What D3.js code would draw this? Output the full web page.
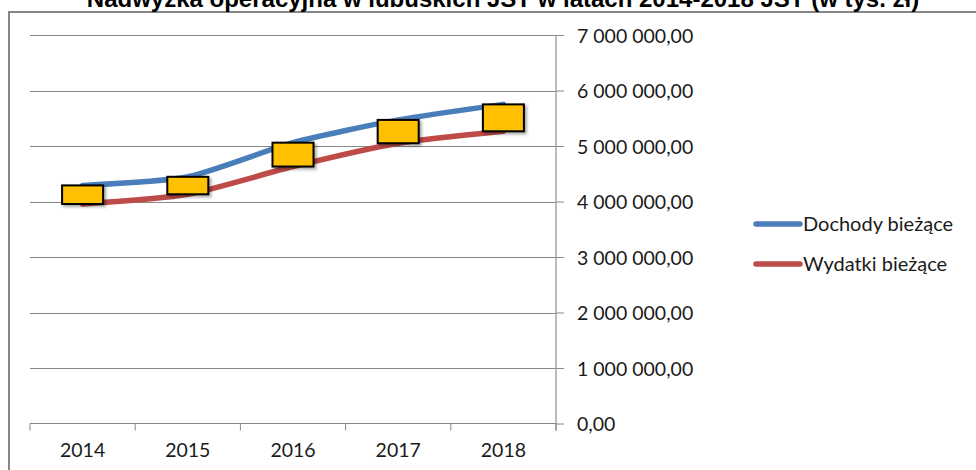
<!DOCTYPE html>
<html>
<head>
<meta charset="utf-8">
<title>Nadwyżka operacyjna</title>
<script src="https://d3js.org/d3.v7.min.js"></script>
<style>
    body { margin: 0; background: #fff; }
    .title { font-family: 'Liberation Sans', Arial, sans-serif; font-weight: bold; font-size: 24px; }
    .lbl { font-family: Lato, 'Open Sans', sans-serif; font-size: 19.5px; fill: #1a1a1a; }
    .leg text { font-size: 20px; }
    .grid line { stroke: #888; stroke-width: 1; }
</style>
</head>
<body>
<script>
var years = ["2014", "2015", "2016", "2017", "2018"];
var dochody = [4290000, 4445000, 5060000, 5470000, 5750000];
var wydatki = [3955000, 4130000, 4630000, 5050000, 5265000];
var yTicks = [0, 1000000, 2000000, 3000000, 4000000, 5000000, 6000000, 7000000];
var seriesNames = ["Dochody bieżące", "Wydatki bieżące"];
var seriesColors = ["#4a7ebb", "#be4b48"];

var width = 976, height = 470;
var plotL = 30, plotR = 556, plotT = 35, plotB = 423.5;

var svg = d3.select("body").append("svg")
    .attr("width", width)
    .attr("height", height);

var defs = svg.append("defs");
var shadow = defs.append("filter").attr("id", "shadow")
    .attr("x", "-20%").attr("y", "-30%").attr("width", "150%").attr("height", "170%");
shadow.append("feDropShadow")
    .attr("dx", 2).attr("dy", 2).attr("stdDeviation", 1.6)
    .attr("flood-color", "#000").attr("flood-opacity", 0.35);

// chart frame
svg.append("rect")
    .attr("x", 9).attr("y", 12)
    .attr("width", 1000).attr("height", 500)
    .attr("fill", "none")
    .attr("stroke", "#868686")
    .attr("stroke-width", 2);

svg.append("text")
    .attr("class", "title")
    .attr("x", 503).attr("y", 7)
    .attr("text-anchor", "middle")
    .text("Nadwyżka operacyjna w lubuskich JST w latach 2014-2018 JST (w tys. zł)");

var x = d3.scaleBand().domain(years).range([plotL, plotR]).padding(0);
var y = d3.scaleLinear().domain([0, 7000000]).range([plotB, plotT]);

var pl = d3.formatLocale({ decimal: ",", thousands: " ", grouping: [3], currency: ["", ""] });
var fmt = pl.format(",.2f");

// gridlines
svg.append("g").attr("class", "grid")
    .selectAll("line").data(yTicks.slice(1)).enter().append("line")
    .attr("x1", plotL).attr("x2", plotR)
    .attr("y1", function(d) { return Math.round(y(d)) + 0.5; })
    .attr("y2", function(d) { return Math.round(y(d)) + 0.5; });

// right y axis
var yAxis = svg.append("g")
    .attr("transform", "translate(" + plotR + ",0)")
    .call(d3.axisRight(y).tickValues(yTicks).tickSize(8).tickPadding(13).tickFormat(fmt));
yAxis.select(".domain").attr("stroke", "#a6a6a6").attr("stroke-width", 1.5)
    .attr("d", "M0," + plotT + "V" + (plotB + 7));
yAxis.selectAll(".tick line").attr("stroke", "#888");
yAxis.selectAll(".tick text").attr("class", "lbl").attr("dy", "0.36em");

// bottom x axis
var xAxis = svg.append("g")
    .attr("transform", "translate(0," + plotB + ")")
    .call(d3.axisBottom(x).tickSize(0).tickPadding(20));
xAxis.select(".domain").attr("stroke", "#888").attr("d", "M" + plotL + ",0H" + plotR);
xAxis.selectAll(".tick text").attr("class", "lbl");
xAxis.selectAll(".bnd").data(years.concat(["end"])).enter().append("line")
    .attr("class", "bnd")
    .attr("stroke", "#888")
    .attr("x1", function(d, i) { return plotL + i * x.bandwidth(); })
    .attr("x2", function(d, i) { return plotL + i * x.bandwidth(); })
    .attr("y1", 0).attr("y2", 7);

// lines
var line = d3.line()
    .x(function(d, i) { return x(years[i]) + x.bandwidth() / 2; })
    .y(function(d) { return y(d); })
    .curve(d3.curveCardinal.tension(0.35));

[dochody, wydatki].forEach(function(s, k) {
    svg.append("path")
        .datum(s)
        .attr("d", line)
        .attr("fill", "none")
        .attr("stroke", seriesColors[k])
        .attr("stroke-width", 5.5)
        .attr("stroke-linecap", "round")
        .attr("stroke-linejoin", "round");
});

// surplus boxes
var boxW = x.bandwidth() * 0.39;
svg.selectAll(".box").data(years).enter().append("rect")
    .attr("class", "box")
    .attr("x", function(d) { return x(d) + x.bandwidth() / 2 - boxW / 2; })
    .attr("y", function(d, i) { return y(dochody[i]); })
    .attr("width", boxW)
    .attr("height", function(d, i) { return y(wydatki[i]) - y(dochody[i]); })
    .attr("fill", "#ffc000")
    .attr("stroke", "#000")
    .attr("stroke-width", 2)
    .attr("filter", "url(#shadow)");

// legend
var legend = svg.selectAll(".leg").data(seriesNames).enter().append("g")
    .attr("class", "leg")
    .attr("transform", function(d, i) { return "translate(756," + (224 + i * 40) + ")"; });
legend.append("line")
    .attr("x1", 0).attr("x2", 44)
    .attr("stroke", function(d, i) { return seriesColors[i]; })
    .attr("stroke-width", 5.5)
    .attr("stroke-linecap", "round");
legend.append("text")
    .attr("class", "lbl")
    .attr("x", 47).attr("dy", "0.36em")
    .text(function(d) { return d; });
</script>
</body>
</html>
